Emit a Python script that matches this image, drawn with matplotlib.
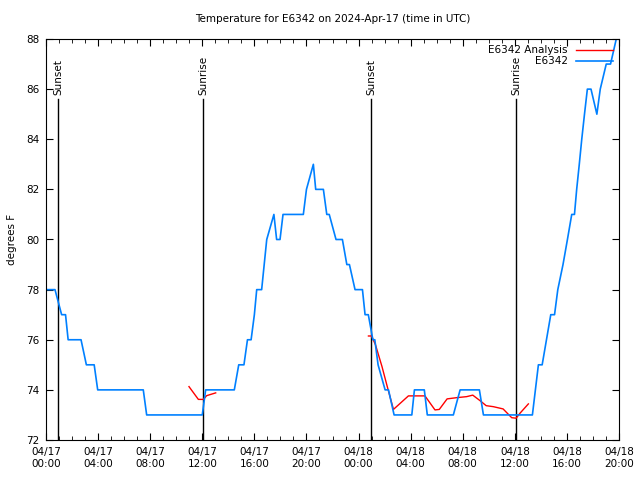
import datetime as dt
import matplotlib
matplotlib.use('Agg')
import matplotlib.pyplot as plt
import matplotlib.dates as mdates

start = dt.datetime(2024, 4, 17, 0, 0)

# observed temperature (hours after 04/17 00:00 UTC, degrees F)
obs_hours = [0, 0.69, 1.2, 1.5, 1.7, 2.69, 3.1, 3.7, 3.97, 7.47, 7.73, 12.0, 12.26,
             14.46, 14.8, 15.2, 15.47, 15.75, 16.0, 16.18, 16.56, 16.95, 17.5, 17.71,
             17.97, 18.2, 19.76, 20.0, 20.53, 20.71, 21.3, 21.56, 21.75, 22.27, 22.76,
             23.1, 23.3, 23.73, 24.3, 24.5, 24.75, 25.1, 25.25, 25.5, 26.04, 26.3,
             26.73, 28.09, 28.29, 29.05, 29.28, 31.28, 31.8, 33.28, 33.59, 37.35,
             37.81, 38.1, 38.76, 39.05, 39.3, 39.7, 40.04, 40.37, 40.58, 40.75, 40.95,
             41.14, 41.35, 41.57, 41.85, 42.3, 42.56, 43.02, 43.35, 43.79, 44.0]
obs_temps = [78, 78, 77, 77, 76, 76, 75, 75, 74, 74, 73, 73, 74,
             74, 75, 75, 76, 76, 77, 78, 78, 80, 81, 80,
             80, 81, 81, 82, 83, 82, 82, 81, 81, 80, 80,
             79, 79, 78, 78, 77, 77, 76, 76, 75, 74, 74,
             73, 73, 74, 74, 73, 73, 74, 74, 73, 73,
             75, 75, 77, 77, 78, 79, 80, 81, 81, 82, 83,
             84, 85, 86, 86, 85, 86, 87, 87, 88, 88.3]

# analysis series, two pieces
ana1_hours = [10.98, 11.7, 12.08, 12.34, 13.03]
ana1_temps = [74.13, 73.62, 73.62, 73.77, 73.88]
ana2_hours = [24.76, 25.0, 25.3, 25.8, 26.17, 26.68, 27.83, 29.1, 29.87, 30.2,
              30.8, 31.55, 32.3, 32.77, 33.33, 33.8, 34.35, 35.1, 35.76, 36.1,
              36.4, 37.04]
ana2_temps = [76.15, 76.15, 75.8, 74.93, 74.2, 73.22, 73.76, 73.76, 73.2, 73.22,
              73.64, 73.69, 73.73, 73.79, 73.57, 73.37, 73.33, 73.24, 72.89, 72.87,
              73.07, 73.44]

sun_events = [("Sunset", 0.92), ("Sunrise", 12.06), ("Sunset", 24.96), ("Sunrise", 36.1)]


def to_dt(hours):
    return [start + dt.timedelta(hours=h) for h in hours]


plt.rcParams['font.family'] = 'DejaVu Sans'
plt.rcParams['font.size'] = 7.5

fig = plt.figure(figsize=(6.4, 4.8), dpi=100)
ax = fig.add_axes([46 / 640, 40 / 480, 573 / 640, 401 / 480])

for name, h in sun_events:
    t = start + dt.timedelta(hours=h)
    ax.plot([t, t], [72, 85.6], color='black', lw=1)
    ax.text(t, 85.75, name, rotation=90, ha='center', va='bottom', fontsize=7.5)

ax.plot(to_dt(ana1_hours), ana1_temps, color='#ff0000', lw=1, label='E6342 Analysis')
ax.plot(to_dt(ana2_hours), ana2_temps, color='#ff0000', lw=1)
ax.plot(to_dt(obs_hours), obs_temps, color='#0080ff', lw=1.2, label='E6342')

ax.set_xlim(start, start + dt.timedelta(hours=44))
ax.set_ylim(72, 88)
ax.set_yticks(range(72, 89, 2))
ax.xaxis.set_major_locator(mdates.HourLocator(byhour=range(0, 24, 4)))
ax.xaxis.set_minor_locator(mdates.HourLocator())
ax.xaxis.set_major_formatter(mdates.DateFormatter('%m/%d\n%H:%M'))
ax.tick_params(which='both', direction='in', top=True, right=True)
ax.tick_params(which='major', length=5, pad=5)
ax.tick_params(which='minor', length=3)

ax.set_title('Temperature for E6342 on 2024-Apr-17 (time in UTC)', fontsize=7.5, pad=12)
ax.set_ylabel('degrees F', labelpad=6)

leg = ax.legend(loc='upper right', frameon=False, markerfirst=False, fontsize=7.5,
                handlelength=3.5, borderaxespad=0.2, labelspacing=0.1)

fig.savefig('out.png', dpi=100)
